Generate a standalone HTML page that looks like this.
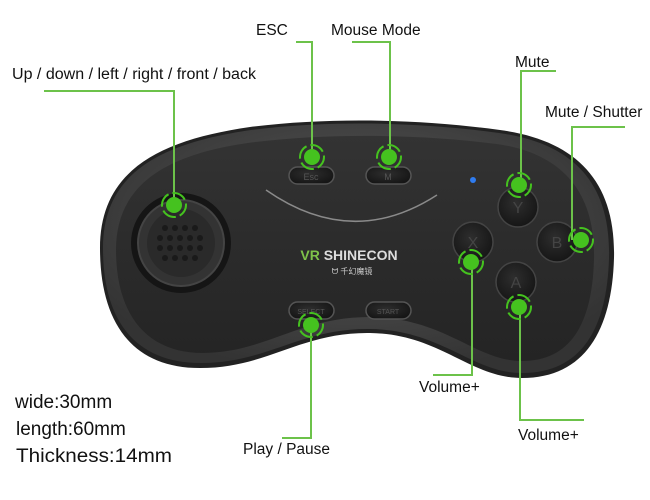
<!DOCTYPE html>
<html><head><meta charset="utf-8"><style>
html,body{margin:0;padding:0;background:#fff;}
svg{display:block;}
text{font-family:"Liberation Sans","Noto Sans CJK SC",sans-serif;fill:#111;}
</style></head><body>
<svg width="650" height="500" viewBox="0 0 650 500" xmlns="http://www.w3.org/2000/svg">
<defs>
<radialGradient id="rim" cx="50%" cy="40%" r="60%">
<stop offset="0" stop-color="#5a5a5a"/><stop offset="1" stop-color="#333"/></radialGradient>
<linearGradient id="face" x1="0" y1="0" x2="0" y2="1">
<stop offset="0" stop-color="#333"/><stop offset="1" stop-color="#242424"/></linearGradient>
<radialGradient id="btn" cx="45%" cy="40%" r="60%">
<stop offset="0" stop-color="#2e2e2e"/><stop offset="1" stop-color="#161616"/></radialGradient>
</defs>
<path d="M100 248 C100 170,160 140,250 127 C330 117,420 119,500 130 C575 140,616 180,614 258 C612 330,585 378,522 378 C470 378,440 334,370 333 C300 332,268 368,200 368 C130 368,100 320,100 248 Z" fill="#222"/>
<path d="M103 248 C103 172,162 143,251 130 C330 120,420 122,499 133 C572 143,611 182,609 258 C607 328,582 373,522 373 C472 373,442 330,370 329 C300 328,268 363,201 363 C133 363,103 318,103 248 Z" fill="url(#rim)"/>
<path d="M116 250 C116 182,170 153,255 142 C330 133,420 134,497 144 C560 153,596 190,594 260 C592 325,570 361,522 361 C475 361,446 318,370 317 C298 317,265 353,203 353 C147 353,116 315,116 250 Z" fill="url(#face)"/>
<path d="M266 190 Q352 250 437 195" fill="none" stroke="#8a8a8a" stroke-width="1.5"/>
<circle cx="181" cy="243" r="50" fill="#151515"/>
<circle cx="181" cy="243" r="43" fill="#333" stroke="#444" stroke-width="2"/>
<circle cx="181" cy="243" r="34" fill="#2a2a2a"/>
<g fill="#1a1a1a">
<circle cx="165" cy="228" r="3"/><circle cx="175" cy="228" r="3"/><circle cx="185" cy="228" r="3"/><circle cx="195" cy="228" r="3"/>
<circle cx="160" cy="238" r="3"/><circle cx="170" cy="238" r="3"/><circle cx="180" cy="238" r="3"/><circle cx="190" cy="238" r="3"/><circle cx="200" cy="238" r="3"/>
<circle cx="160" cy="248" r="3"/><circle cx="170" cy="248" r="3"/><circle cx="180" cy="248" r="3"/><circle cx="190" cy="248" r="3"/><circle cx="200" cy="248" r="3"/>
<circle cx="165" cy="258" r="3"/><circle cx="175" cy="258" r="3"/><circle cx="185" cy="258" r="3"/><circle cx="195" cy="258" r="3"/>
</g>
<g stroke="#555" stroke-width="1.5" fill="url(#btn)">
<rect x="289" y="167" width="45" height="17" rx="8.5"/>
<rect x="366" y="167" width="45" height="17" rx="8.5"/>
<rect x="289" y="302" width="45" height="17" rx="8.5"/>
<rect x="366" y="302" width="45" height="17" rx="8.5"/>
</g>
<g font-size="9" text-anchor="middle">
<text x="311" y="180" style="fill:#555">Esc</text><text x="388" y="180" style="fill:#555">M</text>
<text x="311" y="314" font-size="7" style="fill:#555">SELECT</text><text x="388" y="314" font-size="7" style="fill:#555">START</text>
</g>
<g fill="url(#btn)" stroke="#444" stroke-width="1.5">
<circle cx="518" cy="207" r="20"/><circle cx="473" cy="242" r="20"/><circle cx="557" cy="242" r="20"/><circle cx="516" cy="282" r="20"/>
</g>
<g font-size="16" text-anchor="middle">
<text x="518" y="213" style="fill:#444">Y</text><text x="473" y="248" style="fill:#444">X</text><text x="557" y="248" style="fill:#444">B</text><text x="516" y="288" style="fill:#444">A</text>
</g>
<circle cx="473" cy="180" r="3" fill="#2f7cf0"/>
<text x="349" y="260" font-size="14" font-weight="bold" text-anchor="middle" style="fill:#ddd"><tspan style="fill:#7ec24a">VR</tspan> SHINECON</text>
<text x="352" y="274" font-size="8" text-anchor="middle" style="fill:#ccc">ᗢ 千幻魔镜</text>
<g stroke="#6cc24a" stroke-width="2" fill="none">
<polyline points="44,91 174,91 174,205"/>
<polyline points="296,42 312,42 312,157"/>
<polyline points="352,42 390,42 390,157"/>
<polyline points="556,71 521,71 521,185"/>
<polyline points="625,127 572,127 572,240"/>
<polyline points="433,375 472,375 472,262"/>
<polyline points="584,420 520,420 520,307"/>
<polyline points="282,438 311,438 311,325"/>
</g>
<g fill="#45c21f">
<circle cx="174" cy="205" r="8"/><circle cx="312" cy="157" r="8"/><circle cx="389" cy="157" r="8"/>
<circle cx="519" cy="185" r="8"/><circle cx="581" cy="240" r="8"/><circle cx="471" cy="262" r="8"/>
<circle cx="519" cy="307" r="8"/><circle cx="311" cy="325" r="8"/>
</g>
<g fill="none" stroke="#45c21f" stroke-width="2" stroke-dasharray="14.85 4" stroke-dashoffset="2">
<circle cx="174" cy="205" r="12"/><circle cx="312" cy="157" r="12"/><circle cx="389" cy="157" r="12"/>
<circle cx="519" cy="185" r="12"/><circle cx="581" cy="240" r="12"/><circle cx="471" cy="262" r="12"/>
<circle cx="519" cy="307" r="12"/><circle cx="311" cy="325" r="12"/>
</g>
<g font-size="15.5">
<text x="12" y="79" textLength="244" lengthAdjust="spacingAndGlyphs">Up / down / left / right / front / back</text>
<text x="256" y="35">ESC</text>
<text x="331" y="35">Mouse Mode</text>
<text x="515" y="67">Mute</text>
<text x="545" y="117">Mute / Shutter</text>
<text x="419" y="392">Volume+</text>
<text x="518" y="440">Volume+</text>
<text x="243" y="454">Play / Pause</text>
</g>
<g font-size="19">
<text x="15" y="408">wide:30mm</text>
<text x="16" y="435">length:60mm</text>
<text x="16" y="462" textLength="156" lengthAdjust="spacingAndGlyphs">Thickness:14mm</text>
</g>
</svg>
</body></html>
